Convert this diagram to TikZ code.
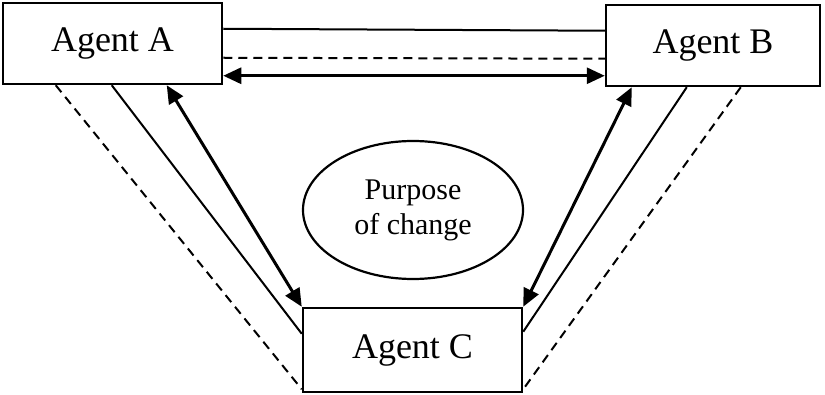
\documentclass[tikz,border=0pt]{standalone}
\usepackage{fontspec}
\setmainfont{Liberation Serif}
\usetikzlibrary{arrows.meta,shapes.geometric}
\begin{document}
\begin{tikzpicture}[x=1pt,y=-1pt,
  agent/.style={draw, line width=2.5pt, rectangle, inner sep=0pt, font=\fontsize{36}{40}\selectfont},
  goal/.style={draw, line width=2.2pt, ellipse, inner sep=0pt, minimum width=220pt, minimum height=138pt, align=center, font=\fontsize{30}{35}\selectfont},
  link/.style={line width=2pt},
  dlink/.style={line width=2pt, dash pattern=on 9pt off 6pt},
  both/.style={line width=3pt, {Triangle[length=18pt,width=16pt]}-{Triangle[length=18pt,width=16pt]}}]
\useasboundingbox (0,0) rectangle (825,395);
\node[agent, minimum width=219pt, minimum height=81pt] (A) at (112.5,43.5) {Agent A};
\node[agent, minimum width=214pt, minimum height=81pt] (B) at (713,45.5) {Agent B};
\node[agent, minimum width=219pt, minimum height=84pt] (C) at (412.5,350) {Agent C};
\node[goal] (P) at (413,210) {Purpose\\of change};
% top links
\draw[link] ([yshift=-27pt]A.north east) -- ([yshift=-27pt]B.north west);
\draw[dlink] ([yshift=-56pt]A.north east) -- ([yshift=-55pt]B.north west);
\draw[both] ([yshift=-74pt]A.north east) -- ([yshift=-72pt]B.north west);
% left links
\draw[dlink] ([xshift=54pt]A.south west) -- ([yshift=4pt]C.south west);
\draw[link] ([xshift=110pt]A.south west) -- ([yshift=-27pt]C.north west);
\draw[both] ([xshift=165pt]A.south west) -- (C.north west);
% right links
\draw[both] ([xshift=27pt]B.south west) -- (C.north east);
\draw[link] ([xshift=82pt]B.south west) -- ([yshift=-25pt]C.north east);
\draw[dlink] ([xshift=136pt]B.south west) -- ([yshift=4pt]C.south east);
\end{tikzpicture}
\end{document}
